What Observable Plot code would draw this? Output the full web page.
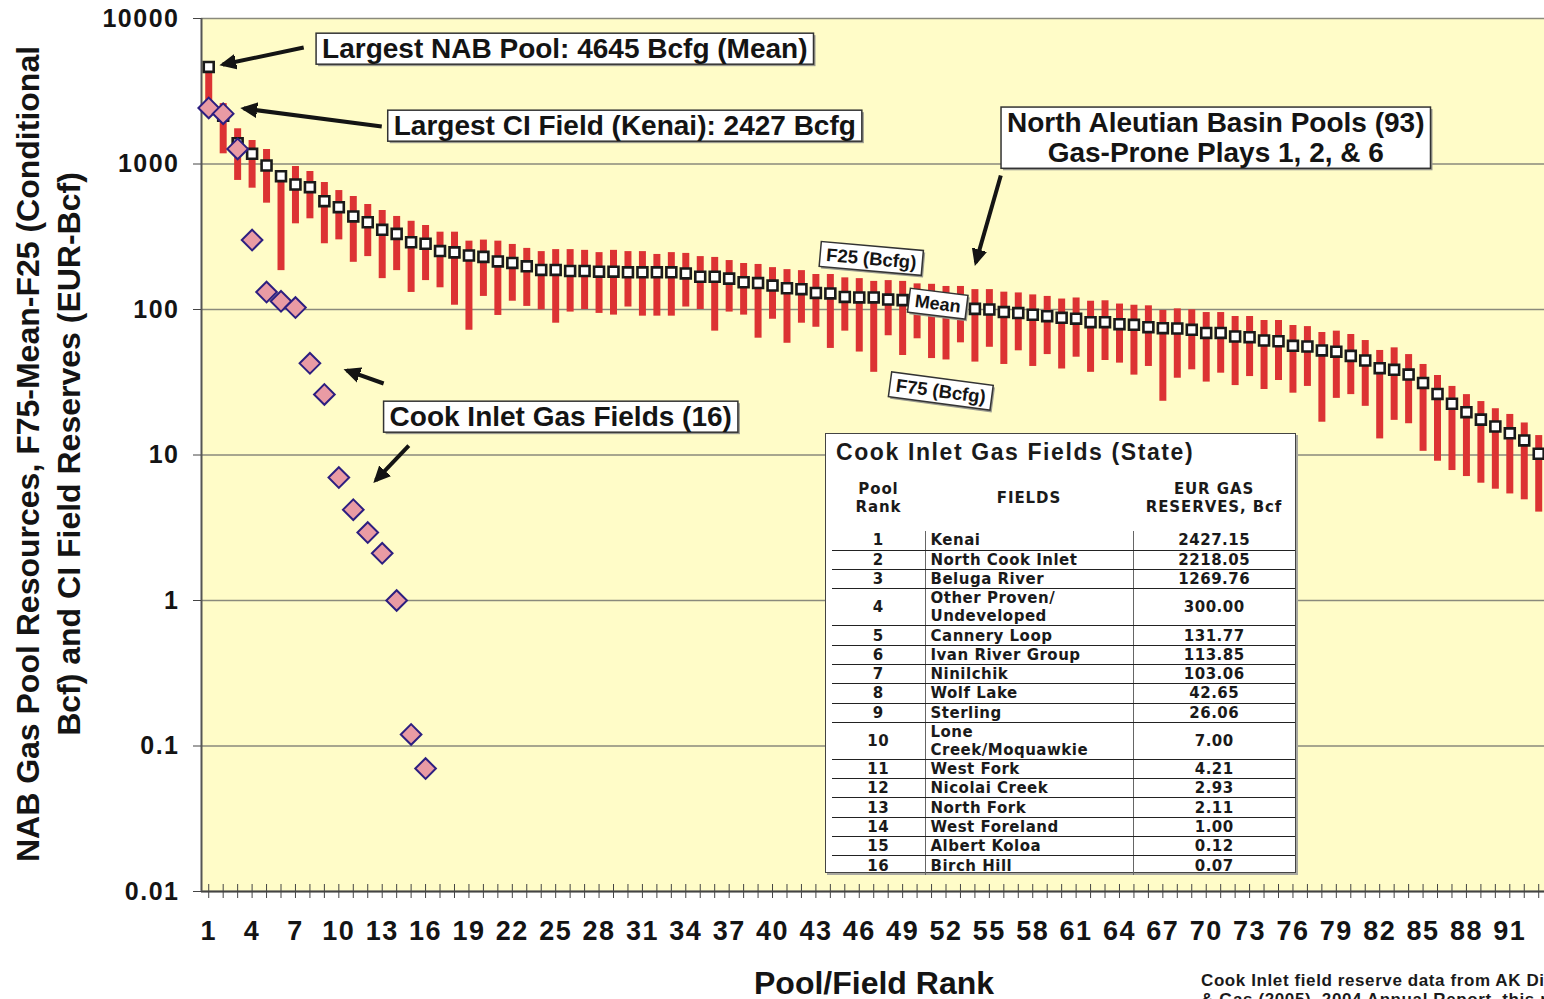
<!DOCTYPE html>
<html><head><meta charset="utf-8">
<script src="https://cdn.jsdelivr.net/npm/d3@7"></script>
<script src="https://cdn.jsdelivr.net/npm/@observablehq/plot@0.6"></script>
<style>
html,body{margin:0;padding:0;background:#fff;overflow:hidden;}
#wrap{position:relative;width:1544px;height:999px;overflow:hidden;font-family:"Liberation Sans",Arial,sans-serif;}
#wrap svg{position:absolute;left:0;top:0;}
#tbl{position:absolute;left:825px;top:433px;width:471px;height:440px;background:#fff;border:1.5px solid #444;box-shadow:2px 2px 0 #a8a8a0;box-sizing:border-box;}
#tbl .ttl{position:absolute;left:10px;top:5px;font:bold 23px "Liberation Sans",Arial,sans-serif;letter-spacing:1.6px;color:#1a1a1a;white-space:nowrap;}
#tbl table{position:absolute;left:6px;border-collapse:collapse;font:bold 15px "DejaVu Sans",Verdana,sans-serif;letter-spacing:0.5px;color:#1a1a1a;table-layout:fixed;}
#tbl table.hdr{top:44px;letter-spacing:0.9px;}
#tbl table.hdr td{text-align:center;line-height:18px;padding:0;height:40px;}
#tbl table.dat{top:97px;}
#tbl table.dat tr{height:19.3px;}
#tbl table.dat td{padding:0;line-height:18px;white-space:pre-line;border-bottom:1.5px solid #222;}
#tbl table.dat tr:last-child td{border-bottom:none;}
#tbl table.dat td:nth-child(1){text-align:center;border-right:1px solid #666;}
#tbl table.dat td:nth-child(2){text-align:left;padding-left:5px;border-right:1px solid #666;}
#tbl table.dat td:nth-child(3){text-align:center;}
#foot{position:absolute;left:1201px;top:971px;font:bold 17px "Liberation Sans",Arial,sans-serif;letter-spacing:0.6px;line-height:19px;color:#1a1a1a;white-space:nowrap;}
</style></head>
<body><div id="wrap"></div>
<script>
// ---------- data ----------
const ranks = d3.range(1, 94); // NAB pool ranks 1..93
const meanVals = [4645,2150,1390,1175,977,825,723,693,555,505,436,398,353,331,290,283,252,247,235,230,
  214,209,198,187,187,184,184,182,182,180,180,180,180,177,168,168,163,154,152,146,
  140,138,130,129,122,121,121,117,116,114,111,107,104,101,100,96,94.5,92,90,87.7,
  86.5,81.8,81.8,79.3,78.5,75.6,74.4,74,72.5,69,69,65.2,64.5,61.2,60.5,56.3,55.7,52.3,51.3,48,
  44.6,39.5,38.5,35.7,31.3,26.3,22.5,19.7,17.5,15.7,14.1,12.6,10.2];
const f25Vals = [4700,2600,1746,1450,1258,880,961,888,746,657,598,527,479,436,404,378,340,340,295,300,
  295,280,263,250,258,258,255,246,255,250,250,239,246,243,231,228,217,207,204,194,
  188,185,174,174,165,163,156,158,156,150,149,144,144,137,137,131.6,130,126,123,118,
  120,114,114.8,109,107,106,98.5,101,99.5,95.3,95.3,89.5,89.5,84,84,77.6,76.3,69.5,71,67.3,
  61.2,52.3,54.5,49,41.9,35.2,29.6,26,23.3,20.8,19,16.6,13.6];
const f75Vals = [2330,1175,771,682,538,185,388,420,283,301,211,231,163,185,131,158,141,107,72,123,
  91,114,105,99.5,80.5,96,100,94,91.5,104,90,90,90,104,100,71,96,91.5,63.5,85.7,
  58.6,80.5,75.5,54,71,51,37,66,48.3,62.9,46,45,59,43.5,55,41.9,52,40.6,49,39,
  47,37,44.6,42.8,35.4,40.6,23.4,33.7,38.5,31.7,36.5,30,34.6,28.2,32.5,26.6,29.6,16.8,24.5,26,
  21.6,12.9,17.3,16.4,10.6,9.06,7.82,7.11,6.4,5.82,5.4,4.92,4.05];

const ciRanks = d3.range(1, 17);
const ciFields = ["Kenai","North Cook Inlet","Beluga River","Other Proven/\nUndeveloped","Cannery Loop",
  "Ivan River Group","Ninilchik","Wolf Lake","Sterling","Lone\nCreek/Moquawkie","West Fork",
  "Nicolai Creek","North Fork","West Foreland","Albert Koloa","Birch Hill"];
const ciEUR = [2427.15,2218.05,1269.76,300.00,131.77,113.85,103.06,42.65,26.06,7.00,4.21,2.93,2.11,1.00,0.12,0.07];

const xTickLabels = d3.range(1, 92, 3);
const yTicks = [0.01, 0.1, 1, 10, 100, 1000, 10000];
const yTickLabels = ["0.01", "0.1", "1", "10", "100", "1000", "10000"];

const pools = ranks.map((r, i) => ({rank: r, mean: meanVals[i], f25: f25Vals[i], f75: f75Vals[i]}));
const fields = ciRanks.map((r, i) => ({rank: r, eur: ciEUR[i]}));

// ---------- chart ----------
const FONT = '"Liberation Sans", Arial, sans-serif';
const INK = "#141414";
function note(txt, x, y, o = {}) {
  return Plot.text([txt], {x: () => x, y: () => y, text: d => d, fontSize: 28, fontWeight: "bold",
    fill: INK, fontFamily: FONT, lineHeight: 1.08, ...o});
}
function arrow(x1, y1, x2, y2) {
  return Plot.link([0], {x1: () => x1, y1: () => y1, x2: () => x2, y2: () => y2,
    stroke: INK, strokeWidth: 4, markerEnd: "arrow"});
}

const plot = Plot.plot({
  width: 1544, height: 999,
  marginLeft: 201, marginRight: 0, marginTop: 18, marginBottom: 108,
  x: {domain: [0.5, 93.4]},
  y: {type: "log", domain: [0.01, 10000]},
  style: {fontFamily: FONT, background: "transparent", overflow: "visible"},
  marks: [
    Plot.frame({fill: "#fffcc8", stroke: null}),
    Plot.gridY(yTicks, {stroke: "#8a8a7c", strokeOpacity: 1, strokeWidth: 1.6}),
    Plot.ruleY([0.01], {stroke: "#444", strokeWidth: 2}),
    Plot.ruleX([0.5], {stroke: "#555", strokeWidth: 2}),
    Plot.ruleX(pools, {x: "rank", y1: "f75", y2: "f25", stroke: "#dc3333", strokeWidth: 7}),
    Plot.dot(pools, {x: "rank", y: "mean", symbol: "square", r: 5.6, fill: "#fff", stroke: "#1a1a1a", strokeWidth: 2.6}),
    Plot.dot(fields, {x: "rank", y: "eur", symbol: "diamond2", r: 9.3, fill: "#e99ba4", stroke: "#2d1f80", strokeWidth: 2}),
    arrow(7.57, 6322, 1.97, 4826),
    arrow(12.97, 1811, 3.42, 2406),
    arrow(55.79, 834, 54.06, 210),
    arrow(13.1, 31.0, 10.55, 38.1),
    arrow(14.84, 11.6, 12.55, 6.68),
    note("Largest NAB Pool: 4645 Bcfg (Mean)", 25.63, 6220),
    note("Largest CI Field (Kenai): 2427 Bcfg", 29.78, 1839),
    note("North Aleutian Basin Pools (93)\nGas-Prone Plays 1, 2, & 6", 70.66, 1521),
    note("Cook Inlet Gas Fields (16)", 25.35, 18.39),
    note("F25 (Bcfg)", 46.83, 224, {fontSize: 18.5, rotate: 5}),
    note("Mean", 51.43, 110, {fontSize: 18, rotate: 7}),
    note("F75 (Bcfg)", 51.64, 27.5, {fontSize: 18.5, rotate: 7.6}),
    Plot.axisY({ticks: yTicks, tickFormat: d => yTickLabels[yTicks.indexOf(d)], tickSize: 8, tickPadding: 14,
      fontSize: 25, fontWeight: "bold", fill: INK, stroke: "#444", label: null}),
    Plot.axisX({ticks: ranks, tickSize: 14, dy: -7, tickFormat: () => "", stroke: "#444", label: null}),
    Plot.axisX({ticks: xTickLabels, tickSize: 0, tickPadding: 29, fontSize: 27, fontWeight: "bold",
      fill: INK, label: null})
  ]
});

const wrap = document.getElementById("wrap");
wrap.appendChild(plot);
const svg = d3.select(plot);

// letter spacing for tick labels
svg.selectAll('g[aria-label="y-axis tick label"] text').style("letter-spacing", "1.5px");
svg.selectAll('g[aria-label="x-axis tick label"] text').style("letter-spacing", "1.5px");

// filled arrow heads
svg.selectAll("marker").attr("fill", INK).attr("stroke", "none");
svg.selectAll("marker path").attr("d", "M-6.4,-3.6L1.3,0L-6.4,3.6L-4.6,0Z").attr("fill", INK).attr("stroke", "none");

// white boxes behind annotation texts
svg.selectAll('g[aria-label="text"] text').each(function () {
  const bb = this.getBBox();
  const tr = this.getAttribute("transform");
  const fs = parseFloat(this.getAttribute("font-size") || this.parentNode.getAttribute("font-size") || 20);
  const padX = 6, padY = fs < 20 ? 2 : 0;
  const mk = (dx, fill, stroke) => {
    const r = document.createElementNS("http://www.w3.org/2000/svg", "rect");
    r.setAttribute("x", bb.x - padX + dx); r.setAttribute("y", bb.y - padY + dx);
    r.setAttribute("width", bb.width + 2 * padX); r.setAttribute("height", bb.height + 2 * padY);
    r.setAttribute("fill", fill);
    if (stroke) { r.setAttribute("stroke", stroke); r.setAttribute("stroke-width", 1.5); }
    if (tr) r.setAttribute("transform", tr);
    this.parentNode.insertBefore(r, this);
  };
  mk(2, "#9a9a90", null);
  mk(0, "#fff", "#333");
});

// axis titles
svg.append("text").attr("transform", "translate(39,454) rotate(-90)").attr("text-anchor", "middle")
  .attr("font-size", 32).attr("font-weight", "bold").attr("fill", INK)
  .text("NAB Gas Pool Resources, F75-Mean-F25 (Conditional");
svg.append("text").attr("transform", "translate(80,454) rotate(-90)").attr("text-anchor", "middle")
  .attr("font-size", 32).attr("font-weight", "bold").attr("fill", INK)
  .text("Bcf) and CI Field Reserves (EUR-Bcf)");
svg.append("text").attr("x", 874).attr("y", 994).attr("text-anchor", "middle")
  .attr("font-size", 32).attr("font-weight", "bold").attr("fill", INK)
  .text("Pool/Field Rank");

// table
const tbl = d3.select(wrap).append("div").attr("id", "tbl");
tbl.append("div").attr("class", "ttl").text("Cook Inlet Gas Fields (State)");
const colW = [93, 208, 162];
const hdr = tbl.append("table").attr("class", "hdr");
const hcg = hdr.append("colgroup"); colW.forEach(w => hcg.append("col").style("width", w + "px"));
const htr = hdr.append("tr");
htr.append("td").html("Pool<br>Rank");
htr.append("td").text("FIELDS");
htr.append("td").html("EUR GAS<br>RESERVES, Bcf");
const dat = tbl.append("table").attr("class", "dat");
const dcg = dat.append("colgroup"); colW.forEach(w => dcg.append("col").style("width", w + "px"));
ciRanks.forEach((r, i) => {
  const tr = dat.append("tr");
  tr.append("td").text(r);
  tr.append("td").text(ciFields[i]);
  tr.append("td").text(ciEUR[i].toFixed(2));
});

// source note
d3.select(wrap).append("div").attr("id", "foot")
  .html("Cook Inlet field reserve data from AK Division of Oil<br>&amp; Gas (2005), 2004 Annual Report, this report");
</script></body></html>
